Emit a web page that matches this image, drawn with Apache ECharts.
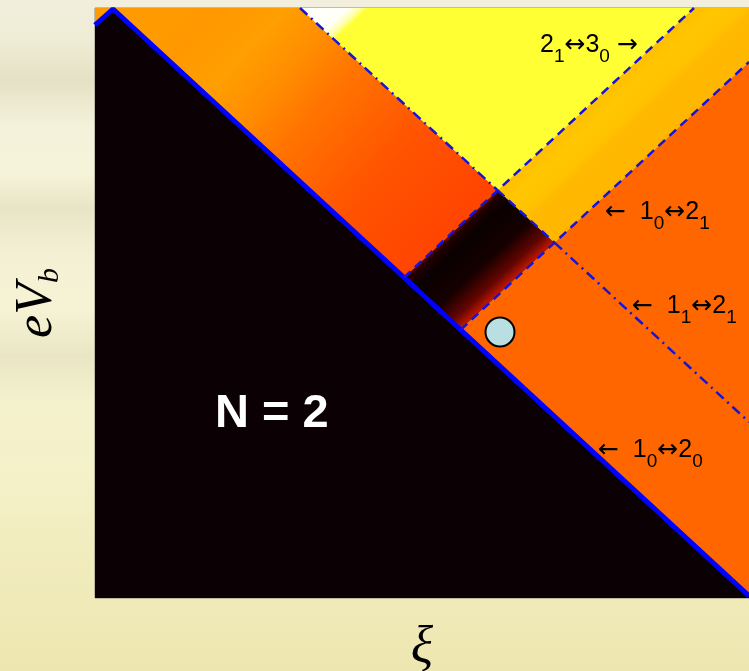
<!DOCTYPE html>
<html>
<head>
<meta charset="utf-8">
<script src="https://cdn.jsdelivr.net/npm/echarts@6/dist/echarts.min.js"></script>
<style>
  html, body { margin: 0; padding: 0; background: #f1eecf; }
  #chart { width: 749px; height: 671px; }
</style>
</head>
<body>
<div id="chart"></div>
<script>
// Plot extents in (ξ, eV_b) units
const xiRange = [0, 654];
const eVbRange = [0, 590];

// Transition lines, each given by two points [ξ, eV_b]
const edge10to20 = [[18, 589], [654, 2]];      // 1₀↔2₀ : edge of the N = 2 blockade region
const edgeLeft   = [[0, 573], [18, 589]];      // opposite edge of the blockade region
const line11to21 = [[205, 590], [654, 176]];   // 1₁↔2₁
const line21to30 = [[402, 407], [599, 590]];   // 2₁↔3₀
const line10to21 = [[457, 353], [654, 536]];   // 1₀↔2₁
const glowEdge   = [[240, 560], [272, 590]];   // edge of the bright spot near the top

// Operating point
const markerPoint = [[405, 266]];

// Annotations: rich-text markup and left anchor [ξ, eV_b]
const annotationTexts = [
  '{m|2}{s|1}{a|↔}{m|3}{s|0}{m| }{a|→}',
  '{a|←}{m|  1}{s|0}{a|↔}{m|2}{s|1}',
  '{a|←}{m|  1}{s|1}{a|↔}{m|2}{s|1}',
  '{a|←}{m|  1}{s|0}{a|↔}{m|2}{s|0}'
];
const annotationPos = [[445, 553], [510, 386], [537, 292], [503, 148]];

const regionLabel = 'N = 2';
const regionLabelPos = [120, 184];

// ---- geometry helpers ----
function intersect(l1, l2) {
  const [[x1, y1], [x2, y2]] = l1, [[x3, y3], [x4, y4]] = l2;
  const d = (x1 - x2) * (y3 - y4) - (y1 - y2) * (x3 - x4);
  const a = x1 * y2 - y1 * x2, b = x3 * y4 - y3 * x4;
  return [(a * (x3 - x4) - (x1 - x2) * b) / d, (a * (y3 - y4) - (y1 - y2) * b) / d];
}

const [xMin, xMax] = xiRange, [yMin, yMax] = eVbRange;
const peak = edge10to20[0];
const pA0 = intersect(line21to30, edge10to20);
const pA1 = intersect(line21to30, line11to21);
const pB0 = intersect(line10to21, edge10to20);
const pB1 = intersect(line10to21, line11to21);
const pGlow = intersect(glowEdge, line11to21);

// Filled regions of the current map
const regions = [
  { pts: [edgeLeft[0], peak, edge10to20[1], [xMax, yMin], [xMin, yMin]], fill: '#0b0004' },
  { pts: [[xMin, yMax], [peak[0], yMax], peak, edgeLeft[0]], fill: '#ff9b00' },
  { pts: [[peak[0], yMax], line11to21[0], pA1, pA0, peak],
    grad: { from: peak, to: pA0, stops: [
      [0, '#ff9c00'], [0.2, '#ff9800'], [0.32, '#ff9f00'], [0.44, '#ff8c00'],
      [0.54, '#ff7600'], [0.66, '#ff6400'], [0.78, '#ff5300'], [1, '#ff4500']] } },
  { pts: [line11to21[0], line21to30[1], pA1], fill: '#ffff33' },
  { pts: [line11to21[0], glowEdge[1], pGlow],
    grad: { from: line11to21[0], across: glowEdge, stops: [
      [0, '#ffffff'], [0.72, '#fffff8'], [0.9, '#ffffa8'], [1, '#ffff50']] } },
  { pts: [pA1, line21to30[1], [xMax, yMax], line10to21[1], pB1],
    grad: { from: pA1, across: line10to21, stops: [
      [0, '#ffbf00'], [0.22, '#ffc700'], [0.45, '#ffc200'], [0.55, '#ffb900'], [1, '#ffb600']] } },
  { pts: [line10to21[1], pB0, edge10to20[1]], fill: '#ff6600' },
  { pts: [pA0, pA1, pB1, pB0],
    grad: { from: pA0, across: line10to21, stops: [
      [0, '#700600'], [0.05, '#220000'], [0.2, '#0a0000'], [0.58, '#160000'],
      [0.84, '#640500'], [1, '#c41a00']] } }
];

// Line segments drawn over the regions
const blue = '#0000ff';
const dashBlue = '#1414dc';
const dashed = [9, 6];
const dashDot = [10, 5, 2, 5];
const segments = [
  { pts: [edgeLeft[0], peak, edge10to20[1]], width: 5, color: blue, type: 'solid' },
  { pts: [line11to21[0], pA1], width: 2.5, color: dashBlue, type: dashDot },
  { pts: [pA1, pB1], width: 2.5, color: dashBlue, type: dashed },
  { pts: [pB1, line11to21[1]], width: 2.5, color: dashBlue, type: dashDot },
  { pts: [pA0, line21to30[1]], width: 2.5, color: dashBlue, type: dashed },
  { pts: [pB0, line10to21[1]], width: 2.5, color: dashBlue, type: dashed }
];

function makeFill(api, r) {
  if (!r.grad) return r.fill;
  const g = r.grad;
  const s = api.coord(g.from);
  let e;
  if (g.to) {
    e = api.coord(g.to);
  } else {
    // gradient perpendicular to the "across" line, running from g.from to that line
    const a = api.coord(g.across[0]), b = api.coord(g.across[1]);
    const dx = b[0] - a[0], dy = b[1] - a[1];
    const len = Math.hypot(dx, dy);
    const nx = -dy / len, ny = dx / len;
    const dist = (a[0] - s[0]) * nx + (a[1] - s[1]) * ny;
    e = [s[0] + nx * dist, s[1] + ny * dist];
  }
  return new echarts.graphic.LinearGradient(s[0], s[1], e[0], e[1],
    g.stops.map(([offset, color]) => ({ offset, color })), true);
}

const serif = '"Liberation Serif", "DejaVu Serif", serif';
const sans = '"Liberation Sans", Arial, "DejaVu Sans", sans-serif';

// Main glyphs sit in a tall line box; subscripts hang from its bottom
const annotationRich = {
  m: { fontFamily: sans, fontSize: 25, lineHeight: 43, color: '#151515' },
  a: { fontFamily: '"DejaVu Sans", sans-serif', fontSize: 25, lineHeight: 43, color: '#151515' },
  s: { fontFamily: sans, fontSize: 19, lineHeight: 4, verticalAlign: 'bottom', color: '#151515' }
};

const option = {
  animation: false,
  graphic: {
    elements: [{
      type: 'rect', z: -100, silent: true,
      shape: { x: 0, y: 0, width: 749, height: 671 },
      style: {
        fill: new echarts.graphic.LinearGradient(0, 0, 0, 1, [
          { offset: 0.00, color: '#f2f0dd' },
          { offset: 0.06, color: '#eeecd4' },
          { offset: 0.12, color: '#e4e1c5' },
          { offset: 0.19, color: '#f4f2db' },
          { offset: 0.26, color: '#f5f3d8' },
          { offset: 0.31, color: '#e8e5c7' },
          { offset: 0.38, color: '#f3f0d4' },
          { offset: 0.46, color: '#f6f3d5' },
          { offset: 0.53, color: '#eae6c5' },
          { offset: 0.60, color: '#f4f1cd' },
          { offset: 0.70, color: '#f5f1c9' },
          { offset: 0.80, color: '#f2edc0' },
          { offset: 0.90, color: '#f0eab8' },
          { offset: 1.00, color: '#ede6b0' }
        ])
      }
    }]
  },
  grid: {
    left: 95, top: 8, right: 0, bottom: 73,
    outerBoundsMode: 'none', containLabel: false,
    show: true, borderColor: '#8c8a80', borderWidth: 1, backgroundColor: 'transparent'
  },
  xAxis: {
    type: 'value', min: xMin, max: xMax,
    axisLine: { show: false }, axisTick: { show: false },
    axisLabel: { show: false }, splitLine: { show: false },
    name: 'ξ', nameLocation: 'middle', nameGap: 24,
    nameTextStyle: { fontFamily: serif, fontStyle: 'italic', fontSize: 52, color: '#000' }
  },
  yAxis: {
    type: 'value', min: yMin, max: yMax,
    axisLine: { show: false }, axisTick: { show: false },
    axisLabel: { show: false }, splitLine: { show: false },
    name: '{e|eV}{b|b}', nameLocation: 'middle', nameRotate: 90, nameGap: 30,
    nameTextStyle: {
      rich: {
        e: { fontFamily: serif, fontStyle: 'italic', fontSize: 52, lineHeight: 56, color: '#000' },
        b: { fontFamily: serif, fontStyle: 'italic', fontSize: 30, lineHeight: 28, verticalAlign: 'bottom', color: '#000' }
      }
    }
  },
  series: [
    {
      type: 'custom', name: 'regions', z: 2, silent: true,
      data: regions.map((r, i) => [i]),
      renderItem(params, api) {
        const r = regions[params.dataIndex];
        return {
          type: 'polygon',
          shape: { points: r.pts.map(p => api.coord(p)) },
          style: { fill: makeFill(api, r), stroke: null }
        };
      }
    },
    ...segments.map(s => ({
      type: 'line', z: 3, silent: true, symbol: 'none',
      data: s.pts,
      lineStyle: { color: s.color, width: s.width, type: s.type, cap: 'butt' }
    })),
    {
      type: 'scatter', z: 4, silent: true,
      data: markerPoint,
      symbol: 'circle', symbolSize: 29,
      itemStyle: { color: '#b9dfe2', borderColor: '#000', borderWidth: 2, opacity: 1 }
    },
    {
      type: 'custom', name: 'annotations', z: 5, silent: true,
      data: annotationPos,
      renderItem(params, api) {
        const p = api.coord(annotationPos[params.dataIndex]);
        return {
          type: 'text', x: p[0], y: p[1],
          style: {
            text: annotationTexts[params.dataIndex], rich: annotationRich,
            align: 'left', verticalAlign: 'middle'
          }
        };
      }
    },
    {
      type: 'custom', name: 'regionLabel', z: 5, silent: true,
      data: [regionLabelPos],
      renderItem(params, api) {
        const p = api.coord(regionLabelPos);
        return {
          type: 'text', x: p[0], y: p[1],
          style: {
            text: regionLabel, fill: '#ffffff',
            font: 'bold 47px ' + sans, align: 'left', verticalAlign: 'middle'
          }
        };
      }
    }
  ]
};

const chart = echarts.init(document.getElementById('chart'));
chart.setOption(option);
</script>
</body>
</html>
